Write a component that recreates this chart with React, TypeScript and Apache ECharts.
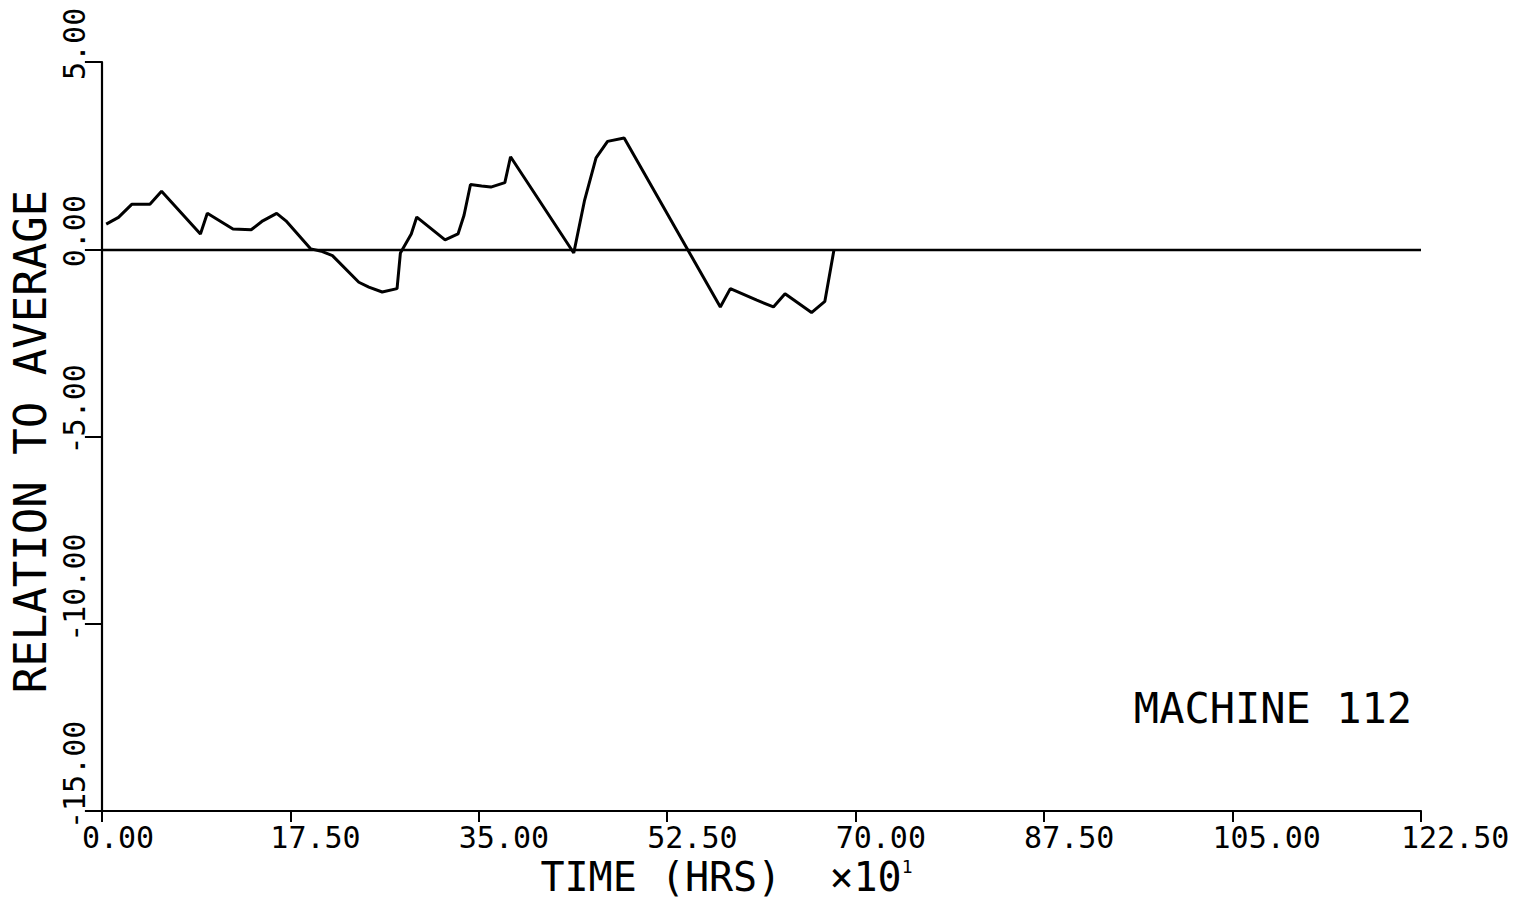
import React, { useEffect, useRef } from "react";
import * as echarts from "echarts";

const timeValues = [0.40, 1.54, 2.77, 4.46, 5.54, 9.15, 9.79, 12.17, 13.86, 14.94, 16.23, 17.09, 19.40, 20.48, 21.41, 23.86, 24.79, 26.03, 27.41, 27.72, 28.73, 29.24, 31.87, 33.07, 33.63, 34.23, 35.26, 36.12, 37.42, 37.95, 43.82, 44.81, 45.89, 46.96, 48.50, 57.43, 58.36, 60.82, 62.36, 63.44, 65.90, 67.14, 67.97];
const relationValues = [0.67, 0.85, 1.20, 1.20, 1.55, 0.41, 0.96, 0.54, 0.52, 0.76, 0.96, 0.76, 0.01, -0.06, -0.17, -0.88, -1.01, -1.14, -1.05, -0.10, 0.41, 0.86, 0.25, 0.41, 0.91, 1.73, 1.69, 1.66, 1.78, 2.47, -0.10, 1.29, 2.44, 2.88, 2.97, -1.54, -1.05, -1.36, -1.54, -1.19, -1.69, -1.39, -0.04];
const xMin = 0;
const xMax = 122.5;
const xStep = 17.5;
const yMin = -15;
const yMax = 5;
const yStep = 5;
const xAxisTitle = "TIME (HRS)";
const yAxisTitle = "RELATION TO AVERAGE";
const machineLabel = "MACHINE 112";

const FONT = "DejaVu Sans Mono";

export default function App() {
  const ref = useRef<HTMLDivElement>(null);
  useEffect(() => {
    if (!ref.current) return;
    const chart = echarts.init(ref.current, null, { renderer: "svg" });
    const data = timeValues.map((t, i) => [t, relationValues[i]]);
    chart.setOption({
      animation: false,
      backgroundColor: "#ffffff",
      grid: { left: 95, right: 107, top: 62, bottom: 86, containLabel: false },
      xAxis: {
        type: "value",
        min: xMin,
        max: xMax,
        interval: xStep,
        splitLine: { show: false },
        axisLine: { show: true, onZero: false, lineStyle: { color: "#000", width: 2.2 } },
        axisTick: { show: true, length: 11, lineStyle: { color: "#000", width: 2 } },
        axisLabel: {
          formatter: (v: number) => v.toFixed(2),
          fontFamily: FONT,
          fontSize: 30,
          color: "#000",
          margin: 11,
          align: "left",
          padding: [0, 0, 0, -20],
          showMinLabel: true,
          showMaxLabel: true,
        },
        name: xAxisTitle + "  {x|×10}{sup|1}",
        nameLocation: "middle",
        nameGap: 44,
        nameTextStyle: {
          fontFamily: FONT,
          fontSize: 40,
          color: "#000",
          padding: [0, 70, 0, 0],
          rich: {
            x: { fontFamily: FONT, fontSize: 40, color: "#000" },
            sup: { fontFamily: FONT, fontSize: 18, color: "#000", verticalAlign: "top", padding: [0, 0, 22, 0] },
          },
        },
      },
      yAxis: {
        type: "value",
        min: yMin,
        max: yMax,
        interval: yStep,
        splitLine: { show: false },
        axisLine: { show: true, onZero: false, lineStyle: { color: "#000", width: 2.2 } },
        axisTick: { show: true, length: 17, lineStyle: { color: "#000", width: 2 } },
        axisLabel: {
          formatter: (v: number) => v.toFixed(2),
          fontFamily: FONT,
          fontSize: 30,
          color: "#000",
          rotate: 90,
          margin: 12,
          align: "left",
          verticalAlign: "bottom",
          padding: [0, 0, 0, -18],
          showMinLabel: true,
          showMaxLabel: true,
        },
        name: yAxisTitle,
        nameLocation: "middle",
        nameRotate: 90,
        nameGap: 37,
        nameTextStyle: { fontFamily: FONT, fontSize: 44, color: "#000", padding: [0, 10, 0, 0] },
      },
      series: [
        {
          type: "line",
          data,
          symbol: "none",
          lineStyle: { color: "#000", width: 3 },
          markLine: {
            silent: true,
            symbol: "none",
            label: { show: false },
            lineStyle: { color: "#000", width: 2.4, type: "solid" },
            data: [{ yAxis: 0 }],
          },
        },
      ],
      graphic: [
        {
          type: "text",
          right: 116,
          top: 687,
          style: { text: machineLabel, fontFamily: FONT, fontSize: 42, fill: "#000" },
        },
      ],
    });
    return () => chart.dispose();
  }, []);
  return (
    <div
      ref={ref}
      style={{ position: "fixed", left: 0, top: 0, width: 1528, height: 902, background: "#fff" }}
    />
  );
}
